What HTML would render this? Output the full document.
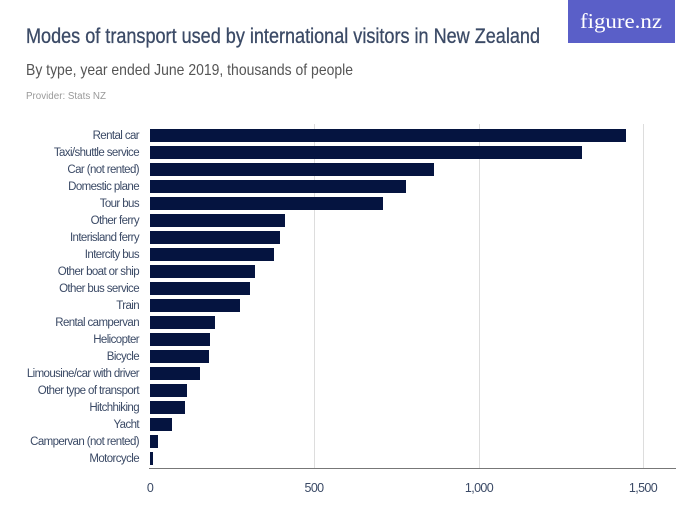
<!DOCTYPE html>
<html><head><style>body{margin:0;background:#fff}svg{display:block}</style></head><body>
<svg width="700" height="525" xmlns="http://www.w3.org/2000/svg" font-family="Liberation Sans, sans-serif">
<rect x="568" y="0" width="107" height="43" fill="#5a5fc8"/>
<text x="621" y="28" text-anchor="middle" fill="#fff" font-family="Liberation Serif, serif" font-size="21" textLength="82" lengthAdjust="spacingAndGlyphs">figure.nz</text>
<text x="26" y="43" fill="#3b4a66" font-size="21" stroke="#3b4a66" stroke-width="0.3" textLength="514" lengthAdjust="spacingAndGlyphs">Modes of transport used by international visitors in New Zealand</text>
<text x="26" y="75" fill="#555" font-size="16" textLength="327" lengthAdjust="spacingAndGlyphs">By type, year ended June 2019, thousands of people</text>
<text x="26" y="99" fill="#999" font-size="10" textLength="80" lengthAdjust="spacingAndGlyphs">Provider: Stats NZ</text>
<g stroke="#ddd" stroke-width="1">
<line x1="314.5" y1="124" x2="314.5" y2="468"/>
<line x1="479.5" y1="124" x2="479.5" y2="468"/>
<line x1="643.5" y1="124" x2="643.5" y2="468"/>
</g>
<line x1="149" y1="468.5" x2="676" y2="468.5" stroke="#777"/>
<g fill="#051440">
<rect x="150" y="129" width="476" height="13"/>
<rect x="150" y="146" width="432" height="13"/>
<rect x="150" y="163" width="284" height="13"/>
<rect x="150" y="180" width="256" height="13"/>
<rect x="150" y="197" width="233" height="13"/>
<rect x="150" y="214" width="135" height="13"/>
<rect x="150" y="231" width="130" height="13"/>
<rect x="150" y="248" width="124" height="13"/>
<rect x="150" y="265" width="105" height="13"/>
<rect x="150" y="282" width="100" height="13"/>
<rect x="150" y="299" width="90" height="13"/>
<rect x="150" y="316" width="65" height="13"/>
<rect x="150" y="333" width="60" height="13"/>
<rect x="150" y="350" width="59" height="13"/>
<rect x="150" y="367" width="50" height="13"/>
<rect x="150" y="384" width="37" height="13"/>
<rect x="150" y="401" width="35" height="13"/>
<rect x="150" y="418" width="22" height="13"/>
<rect x="150" y="435" width="8" height="13"/>
<rect x="150" y="452" width="3" height="13"/>
</g>
<g fill="#3b4a66" font-size="11.5" text-anchor="end" letter-spacing="-0.6">
<text x="139" y="139">Rental car</text>
<text x="139" y="156">Taxi/shuttle service</text>
<text x="139" y="173">Car (not rented)</text>
<text x="139" y="190">Domestic plane</text>
<text x="139" y="207">Tour bus</text>
<text x="139" y="224">Other ferry</text>
<text x="139" y="241">Interisland ferry</text>
<text x="139" y="258">Intercity bus</text>
<text x="139" y="275">Other boat or ship</text>
<text x="139" y="292">Other bus service</text>
<text x="139" y="309">Train</text>
<text x="139" y="326">Rental campervan</text>
<text x="139" y="343">Helicopter</text>
<text x="139" y="360">Bicycle</text>
<text x="139" y="377">Limousine/car with driver</text>
<text x="139" y="394">Other type of transport</text>
<text x="139" y="411">Hitchhiking</text>
<text x="139" y="428">Yacht</text>
<text x="139" y="445">Campervan (not rented)</text>
<text x="139" y="462">Motorcycle</text>
</g>
<g fill="#3b4a66" font-size="12.5" text-anchor="middle" letter-spacing="-0.6">
<text x="150" y="492">0</text>
<text x="314" y="492">500</text>
<text x="479" y="492">1,000</text>
<text x="643" y="492">1,500</text>
</g>
</svg>
</body></html>
